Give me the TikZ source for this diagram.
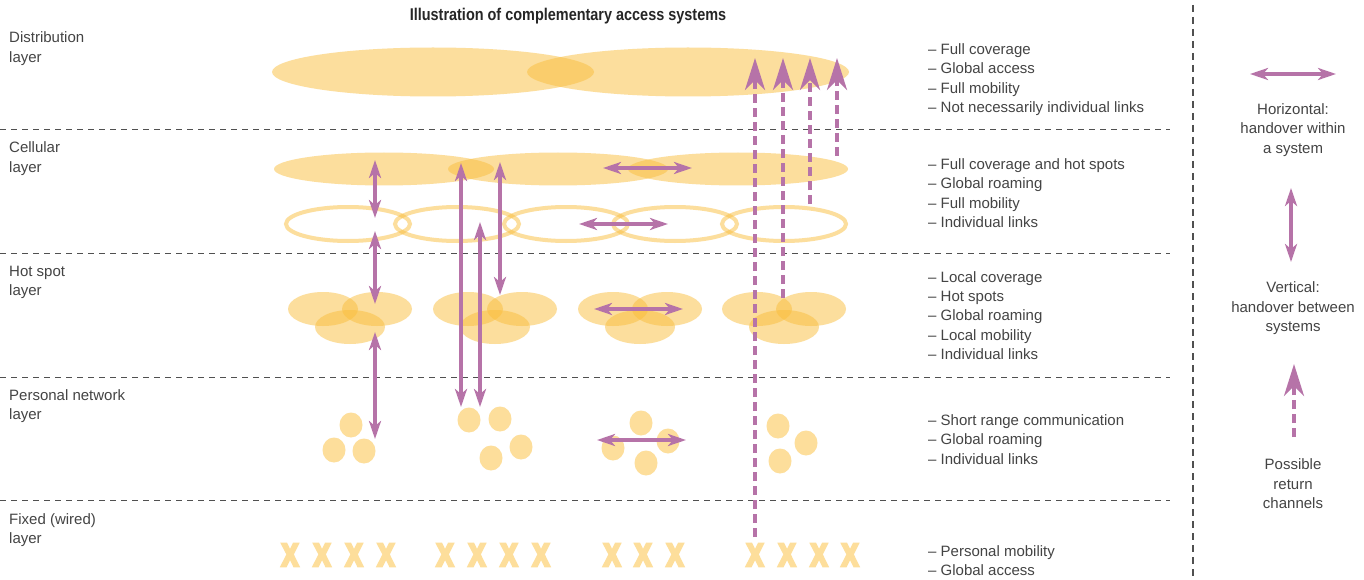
\documentclass[tikz,border=0pt]{standalone}
\usepackage{fontspec}
\setmainfont{Liberation Sans}
\newfontfamily\condfont[FakeStretch=0.85]{Liberation Sans}
\newfontfamily\xfont[FakeStretch=0.78]{Liberation Sans}
\newcommand\thickglyph[1]{\special{pdf:literal direct 2 Tr 2.6 w}#1\special{pdf:literal direct 0 Tr 1 w}}
\usetikzlibrary{arrows.meta,shapes.geometric}
\definecolor{pur}{RGB}{182,115,168}
\definecolor{yl}{RGB}{250,190,60}
\definecolor{ylx}{RGB}{253,222,155}
\definecolor{txt}{RGB}{68,68,68}
\definecolor{sep}{RGB}{80,80,80}
\begin{document}
\begin{tikzpicture}[x=1pt,y=-1pt,
  lbl/.style={font=\fontsize{15}{18}\selectfont, text=txt, inner sep=0pt, anchor=base west},
  lgd/.style={font=\fontsize{15}{18}\selectfont, text=txt, inner sep=0pt, anchor=base},
  layerline/.style={sep, line width=1pt, dash pattern=on 6pt off 5pt},
  blob/.style={ellipse, fill=yl, fill opacity=0.5, draw=none, inner sep=0pt},
  ring/.style={ellipse, draw=yl, draw opacity=0.5, line width=4pt, inner sep=0pt, minimum width=124pt, minimum height=34pt},
  dot/.style={ellipse, fill=ylx, draw=none, inner sep=0pt, minimum width=23pt, minimum height=25pt},
  xmark/.style={font=\xfont\bfseries\fontsize{32}{32}\selectfont, text=ylx, inner sep=0pt},
  hv/.style={pur, line width=3.2pt, {Stealth[length=18pt,width=12pt,inset=5pt]}-{Stealth[length=18pt,width=12pt,inset=5pt]}},
  ret/.style={pur, line width=4pt, dash pattern=on 9pt off 5pt, -{Stealth[length=32pt,width=20pt,inset=10pt]}},
]
\fill[white] (0,0) rectangle (1364,580);
\useasboundingbox (0,0) rectangle (1364,580);

% title
\node[font=\condfont\bfseries\fontsize{17}{20}\selectfont, text=black!85, inner sep=0pt, anchor=base] (title) at (568,21) {Illustration of complementary access systems};

% layer separators
\foreach \yy [count=\i] in {130,253,377,500}
  \draw[layerline] (0,\yy) coordinate (sepL\i) -- (1170,\yy) coordinate (sepR\i);
\coordinate (vsT) at (1193,5);
\coordinate (vsB) at (1193,580);
\draw[sep, line width=1.2pt, dash pattern=on 7pt off 5pt] (vsT) -- (vsB);

% left labels
\node[lbl] (lab1a) at (9,43) {Distribution};
\node[lbl] (lab1b) at (9,62.5) {layer};
\node[lbl] (lab2a) at (9,153) {Cellular};
\node[lbl] (lab2b) at (9,172.5) {layer};
\node[lbl] (lab3a) at (9,276) {Hot spot};
\node[lbl] (lab3b) at (9,295.5) {layer};
\node[lbl] (lab4a) at (9,400) {Personal network};
\node[lbl] (lab4b) at (9,419.5) {layer};
\node[lbl] (lab5a) at (9,524) {Fixed (wired)};
\node[lbl] (lab5b) at (9,543.5) {layer};

% right descriptions
\foreach \t [count=\i from 0] in {– Full coverage,– Global access,– Full mobility,– Not necessarily individual links}
  \node[lbl] (dd\i) at (928,{54.5+19.4*\i}) {\t};
\foreach \t [count=\i from 0] in {– Full coverage and hot spots,– Global roaming,– Full mobility,– Individual links}
  \node[lbl] (dc\i) at (928,{169.5+19.3*\i}) {\t};
\foreach \t [count=\i from 0] in {– Local coverage,– Hot spots,– Global roaming,– Local mobility,– Individual links}
  \node[lbl] (dh\i) at (928,{282.5+19.2*\i}) {\t};
\foreach \t [count=\i from 0] in {– Short range communication,– Global roaming,– Individual links}
  \node[lbl] (dp\i) at (928,{425.5+19.3*\i}) {\t};
\foreach \t [count=\i from 0] in {– Personal mobility,– Global access}
  \node[lbl] (df\i) at (928,{556.5+19.3*\i}) {\t};

% distribution layer
\node[blob, minimum width=322pt, minimum height=49pt] (dis1) at (433,72) {};
\node[blob, minimum width=322pt, minimum height=49pt] (dis2) at (688,72) {};

% cellular layer
\foreach \cx [count=\i] in {384,558,738}
  \node[blob, minimum width=220pt, minimum height=33pt] (cel\i) at (\cx,169) {};
\foreach \cx [count=\i] in {348,457,566,675,784}
  \node[ring] (rng\i) at (\cx,224) {};

% hot spot layer
\foreach \cx [count=\i] in {350,495,640,784} {
  \node[blob, minimum width=70pt, minimum height=34pt] (hs\i a) at (\cx-27,309) {};
  \node[blob, minimum width=70pt, minimum height=34pt] (hs\i b) at (\cx+27,309) {};
  \node[blob, minimum width=70pt, minimum height=34pt] (hs\i c) at (\cx,327) {};
}

% personal network layer
\node[dot] (p1a) at (351,425) {};
\node[dot] (p1b) at (334,450) {};
\node[dot] (p1c) at (364,451) {};
\node[dot] (p2a) at (469,420) {};
\node[dot] (p2b) at (500,419) {};
\node[dot] (p2c) at (521,447) {};
\node[dot] (p2d) at (491,458) {};
\node[dot] (p3a) at (641,423) {};
\node[dot] (p3b) at (613,448) {};
\node[dot] (p3c) at (668,441) {};
\node[dot] (p3d) at (646,463) {};
\node[dot] (p4a) at (778,426) {};
\node[dot] (p4b) at (806,443) {};
\node[dot] (p4c) at (780,461) {};

% fixed layer
\foreach \xx [count=\i] in {290,322,354,386,445,477,509,541,612,643,675,755,787,819,850}
  \node[xmark] (x\i) at (\xx,555) {\thickglyph{X}};

% handover arrows
\coordinate (v1t) at (375,160); \coordinate (v1b) at (375,218);
\coordinate (v2t) at (375,231); \coordinate (v2b) at (375,304);
\coordinate (v3t) at (375,332); \coordinate (v3b) at (375,439);
\coordinate (v4t) at (461,163); \coordinate (v4b) at (461,407);
\coordinate (v5t) at (480,222); \coordinate (v5b) at (480,407);
\coordinate (v6t) at (500,162); \coordinate (v6b) at (500,295);
\coordinate (h1l) at (603,168); \coordinate (h1r) at (692,168);
\coordinate (h2l) at (579,224); \coordinate (h2r) at (668,224);
\coordinate (h3l) at (594,309); \coordinate (h3r) at (683,309);
\coordinate (h4l) at (597,440); \coordinate (h4r) at (686,440);
\foreach \a/\b in {v1t/v1b,v2t/v2b,v3t/v3b,v4t/v4b,v5t/v5b,v6t/v6b,h1l/h1r,h2l/h2r,h3l/h3r,h4l/h4r}
  \draw[hv] (\a) -- (\b);

% return channels
\coordinate (r1b) at (755,537); \coordinate (r1t) at (755,58);
\coordinate (r2b) at (783,298); \coordinate (r2t) at (783,58);
\coordinate (r3b) at (810,204); \coordinate (r3t) at (810,58);
\coordinate (r4b) at (837,156); \coordinate (r4t) at (837,58);
\foreach \a/\b in {r1b/r1t,r2b/r2t,r3b/r3t,r4b/r4t}
  \draw[ret] (\a) -- (\b);

% legend
\coordinate (lh1) at (1250,74); \coordinate (lh2) at (1336,74);
\draw[hv] (lh1) -- (lh2);
\node[lgd] (lg1a) at (1293,114.5) {Horizontal:};
\node[lgd] (lg1b) at (1293,134) {handover within};
\node[lgd] (lg1c) at (1293,153.5) {a system};
\coordinate (lv1) at (1291,188); \coordinate (lv2) at (1291,262);
\draw[hv] (lv1) -- (lv2);
\node[lgd] (lg2a) at (1293,292.5) {Vertical:};
\node[lgd] (lg2b) at (1293,312) {handover between};
\node[lgd] (lg2c) at (1293,331.5) {systems};
\coordinate (lr1) at (1294,437); \coordinate (lr2) at (1294,364);
\draw[ret] (lr1) -- (lr2);
\node[lgd] (lg3a) at (1293,469.5) {Possible};
\node[lgd] (lg3b) at (1293,489) {return};
\node[lgd] (lg3c) at (1293,508.5) {channels};
\end{tikzpicture}
\end{document}
